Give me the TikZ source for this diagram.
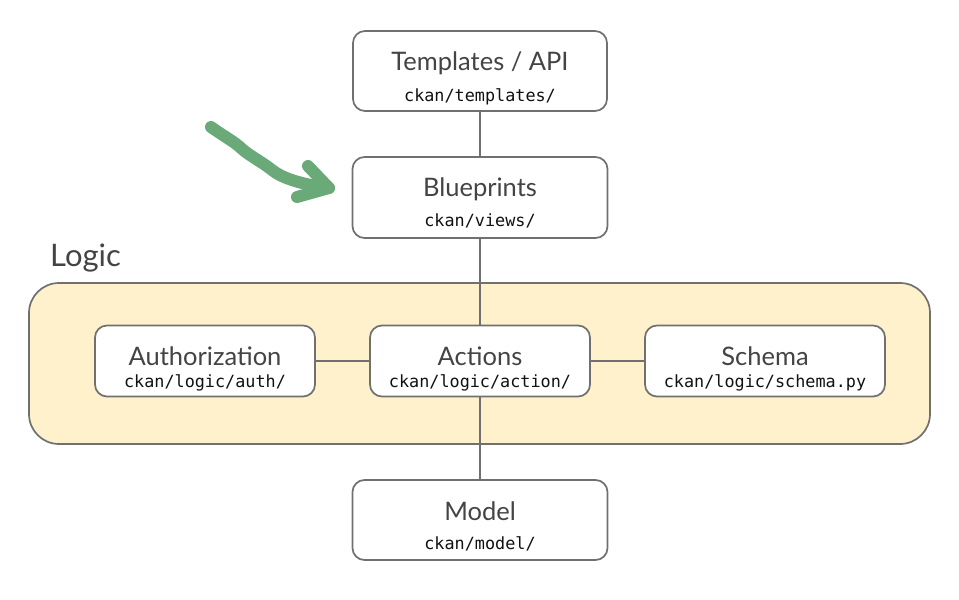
\documentclass[tikz,border=0pt]{standalone}
\usepackage{fontspec}
\setmainfont{Lato}
\newfontfamily\codefont{DejaVu Sans Mono}
\definecolor{edge}{HTML}{707070}
\definecolor{txt}{HTML}{444444}
\definecolor{codetxt}{HTML}{111111}
\definecolor{logicfill}{HTML}{FFF1CC}
\definecolor{pen}{HTML}{6AAA78}
\tikzset{
  box/.style={draw=edge, line width=1.7pt, rounded corners=12pt, fill=white, inner sep=0pt},
  ttl/.style={text=txt, anchor=base, inner sep=0pt, font=\fontsize{25.5}{27}\selectfont},
  pth/.style={text=codetxt, anchor=base, inner sep=0pt, font=\codefont\fontsize{16.8}{18}\selectfont},
  conn/.style={draw=edge, line width=1.7pt},
}
\begin{document}
\begin{tikzpicture}[x=1pt,y=-1pt]
\useasboundingbox (0,0) rectangle (959,600);
% logic container
\node[draw=edge, line width=1.7pt, rounded corners=30pt, fill=logicfill,
  minimum width=901pt, minimum height=161pt, inner sep=0pt] (logic) at (479.5,363.5) {};
\node[text=txt, anchor=base west, inner sep=0pt, font=\fontsize{31}{33}\selectfont] (logiclbl) at (50,266) {Logic};
% boxes
\node[box, minimum width=254pt, minimum height=80pt] (tpl) at (480,71) {};
\node[box, minimum width=255pt, minimum height=81pt] (bp) at (480,197.5) {};
\node[box, minimum width=220pt, minimum height=71pt] (auth) at (205,361) {};
\node[box, minimum width=220pt, minimum height=71pt] (act) at (480,361) {};
\node[box, minimum width=240pt, minimum height=71pt] (sch) at (765,361) {};
\node[box, minimum width=255pt, minimum height=80pt] (mdl) at (480,520) {};
% texts (yshift is upward-positive)
\node[ttl] (tplT) at ([yshift=1pt]tpl.center) {Templates / API};
\node[pth] (tplP) at ([yshift=-30pt]tpl.center) {ckan/templates/};
\node[ttl] (bpT) at ([yshift=1.5pt]bp.center) {Blueprints};
\node[pth] (bpP) at ([yshift=-29pt]bp.center) {ckan/views/};
\node[ttl] (authT) at ([yshift=-4.5pt]auth.center) {Authorization};
\node[pth] (authP) at ([yshift=-26pt]auth.center) {ckan/logic/auth/};
\node[ttl] (actT) at ([yshift=-4.5pt]act.center) {Actions};
\node[pth] (actP) at ([yshift=-26pt]act.center) {ckan/logic/action/};
\node[ttl] (schT) at ([yshift=-4.5pt]sch.center) {Schema};
\node[pth] (schP) at ([yshift=-26pt]sch.center) {ckan/logic/schema.py};
\node[ttl] (mdlT) at ([yshift=0pt]mdl.center) {Model};
\node[pth] (mdlP) at ([yshift=-29pt]mdl.center) {ckan/model/};
% connectors
\draw[conn] (tpl) -- (bp);
\draw[conn] (bp) -- (act);
\draw[conn] (act) -- (mdl);
\draw[conn] (auth) -- (act);
\draw[conn] (act) -- (sch);
% green hand-drawn arrow
\coordinate (pa) at (211,127);
\coordinate (pb) at (329,188);
\draw[pen, line width=12pt, line cap=round, line join=round]
  (pa) .. controls (225,137) and (235,142) .. (242,149)
  .. controls (250,156) and (262,162) .. (272,170)
  .. controls (282,178) and (300,184) .. (pb);
\draw[pen, line width=12pt, line cap=round, line join=round]
  (308,166) -- (pb) -- (297,197);
\end{tikzpicture}
\end{document}
